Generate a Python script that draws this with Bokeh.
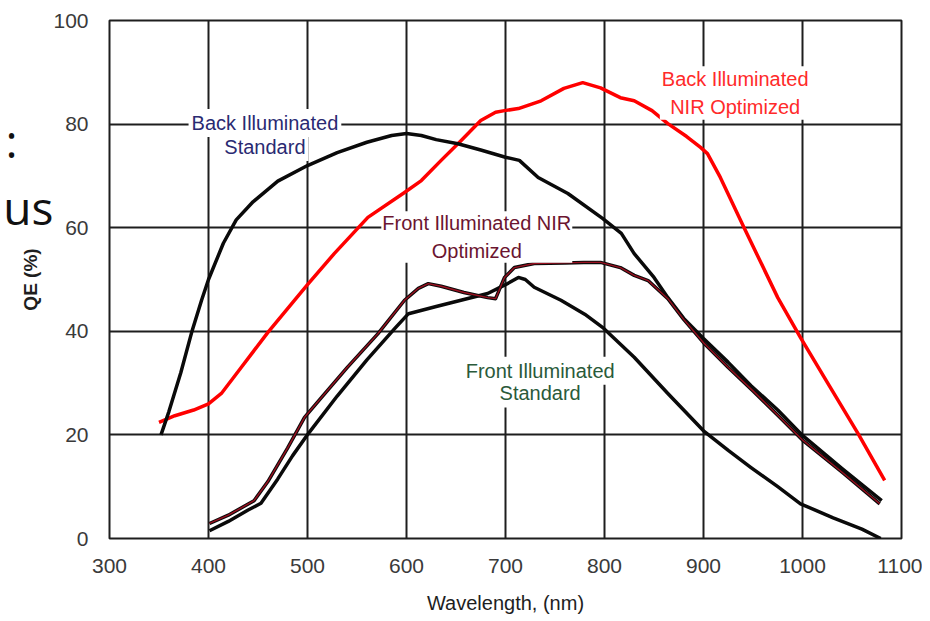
from bokeh.plotting import figure
from bokeh.models import Label, Range1d, LinearAxis, FixedTicker
from bokeh.embed import file_html
from bokeh.resources import INLINE

# ---------------- data ----------------
x_ticks = [300, 400, 500, 600, 700, 800, 900, 1000, 1100]
y_ticks = [0, 20, 40, 60, 80, 100]

back_std_x = [352, 360, 372, 383, 393, 400, 415, 428, 445, 470, 500, 530, 560, 585, 600,
              615, 630, 652, 675, 700, 714, 733, 763, 798, 817, 830, 850, 864, 880, 900,
              925, 948, 975, 1000, 1040, 1080]
back_std_y = [20, 24.5, 32, 39.8, 46, 50, 57, 61.5, 65, 69, 72, 74.5, 76.5, 77.8, 78.2,
              77.8, 77, 76.2, 75, 73.6, 73, 69.7, 66.6, 61.8, 58.9, 55, 50.4, 46.5, 42.5, 38.6,
              34, 29.5, 24.8, 19.9, 13.5, 7.3]

back_nir_x = [350, 366, 385, 400, 413, 433, 460, 487, 500, 527, 561, 598, 615, 635, 655,
              675, 690, 699, 713, 736, 759, 778, 796, 816, 830, 848, 864, 883, 897, 904,
              917, 941, 975, 998, 1027, 1056, 1083]
back_nir_y = [22.4, 23.7, 24.8, 26, 28, 33, 39.8, 46, 49, 55, 62, 66.8, 69.1, 73, 76.8,
              80.7, 82.3, 82.6, 83, 84.5, 86.9, 88, 87, 85.1, 84.5, 82.6, 80.1, 77.6, 75.5, 74.3,
              69.7, 60, 46.5, 38.8, 29.5, 20.3, 11.2]

front_nir_x = [401, 420, 446, 460, 480, 497, 514, 540, 571, 598, 612, 622, 635, 658, 682,
               690, 699, 709, 729, 760, 779, 796, 816, 830, 844, 864, 880, 900, 925, 950,
               975, 1000, 1040, 1078]
front_nir_y = [2.9, 4.5, 7.3, 11, 17.5, 23.4, 27.2, 33, 39.5, 46, 48.3, 49.2, 48.7, 47.5, 46.5,
               46.3, 50.4, 52.3, 53.1, 53.2, 53.3, 53.3, 52.3, 50.8, 49.8, 46.3, 42.3, 37.8, 33, 28.5,
               23.8, 19, 12.8, 6.7]

front_std_x = [401, 420, 440, 453, 470, 485, 501, 530, 560, 588, 602, 630, 655, 682, 700,
               713, 720, 729, 743, 756, 780, 799, 830, 864, 900, 925, 948, 975, 998, 1031,
               1060, 1079]
front_std_y = [1.5, 3.3, 5.5, 6.8, 11.5, 16, 20.3, 27.5, 34.5, 40.5, 43.4, 44.8, 46, 47.3, 49,
               50.4, 50, 48.5, 47.2, 46, 43.3, 40.6, 35, 28, 20.8, 17, 13.7, 10, 6.7, 4,
               1.8, 0]

label_back_std = ["Back Illuminated", "Standard"]
label_back_nir = ["Back Illuminated", "NIR Optimized"]
label_front_nir = ["Front Illuminated NIR", "Optimized"]
label_front_std = ["Front Illuminated", "Standard"]
x_title = "Wavelength, (nm)"
y_title = "QE (%)"
# stray slide text visible at the left edge of the picture
stray_pos = [77.0, 64.0]
stray_texts = [":" + "\u00a0" * 3, "us"]

# ---------------- figure ----------------
p = figure(width=922, height=621, x_range=Range1d(300, 1100), y_range=Range1d(0, 100),
           output_backend="svg", toolbar_location=None,
           min_border_left=108, min_border_right=21, min_border_top=20, min_border_bottom=83)
p.background_fill_color = "white"
p.border_fill_color = "white"
p.outline_line_color = "#1e1e1e"
p.outline_line_width = 2
p.outline_line_alpha = 1.0

p.xgrid.ticker = x_ticks
p.ygrid.ticker = y_ticks
p.grid.grid_line_color = "#1e1e1e"
p.grid.grid_line_width = 2
p.grid.grid_line_alpha = 1.0

for ax in (p.xaxis[0], p.yaxis[0]):
    ax.axis_line_color = None
    ax.major_tick_line_color = None
    ax.minor_tick_line_color = None
    ax.major_label_text_font = "Liberation Sans"
    ax.major_label_text_font_size = "21px"
    ax.major_label_text_color = "#3a3a3a"
    ax.axis_label_text_font = "Liberation Sans"
    ax.axis_label_text_font_style = "normal"
    ax.axis_label_text_color = "#1e1e1e"

p.xaxis.ticker = x_ticks
p.yaxis.ticker = y_ticks
p.xaxis.major_label_standoff = 14
p.yaxis.major_label_standoff = 15
p.xaxis.axis_label = x_title
p.xaxis.axis_label_text_font_size = "20px"
p.xaxis.axis_label_standoff = 16
p.yaxis.axis_label = y_title
p.yaxis.axis_label_text_font_size = "19px"
p.yaxis.axis_label_text_font_style = "bold"
p.yaxis.axis_label_standoff = 9

# outer left axis only carrying the stray slide text
stray_axis = LinearAxis(ticker=FixedTicker(ticks=stray_pos),
                        major_label_overrides={stray_pos[0]: stray_texts[0],
                                               stray_pos[1]: stray_texts[1]},
                        axis_line_color=None, major_tick_line_color=None,
                        minor_tick_line_color=None,
                        major_label_text_font="Open Sans",
                        major_label_text_font_size="46px",
                        major_label_text_color="#111111",
                        major_label_standoff=-42)
p.add_layout(stray_axis, "left")

# ---------------- curves ----------------
p.line(back_nir_x, back_nir_y, line_color="#ff0000", line_width=3.5, line_join="round")
p.line(back_std_x, back_std_y, line_color="#0a0a0a", line_width=3.5, line_join="round")
p.line(front_std_x, front_std_y, line_color="#0a0a0a", line_width=3.5, line_join="round")
p.line(front_nir_x, front_nir_y, line_color="#0a0a0a", line_width=3.5, line_join="round")
p.line(front_nir_x, front_nir_y, line_color="#9a1020", line_width=1.4, line_join="round")

# ---------------- labels ----------------
def add_label(x, y, text, color, pad=3):
    p.add_layout(Label(x=x, y=y, text=text, text_align="center", text_baseline="middle",
                       text_font="Liberation Sans", text_font_size="20px",
                       text_color=color, text_line_height=1.25,
                       background_fill_color="white", background_fill_alpha=1.0,
                       padding=pad))

add_label(457, 80.2, label_back_std[0], "#2a2a72")
add_label(457, 75.6, label_back_std[1], "#2a2a72")
add_label(932, 86.0, "\n".join(label_back_nir), "#ff2a2a", pad=2)
add_label(671, 58.2, "\n".join(label_front_nir), "#6b1530", pad=1)
add_label(735, 32.4, label_front_std[0], "#2a5a3a")
add_label(735, 28.0, label_front_std[1], "#2a5a3a")

open("out.html", "w").write(file_html(p, INLINE))
